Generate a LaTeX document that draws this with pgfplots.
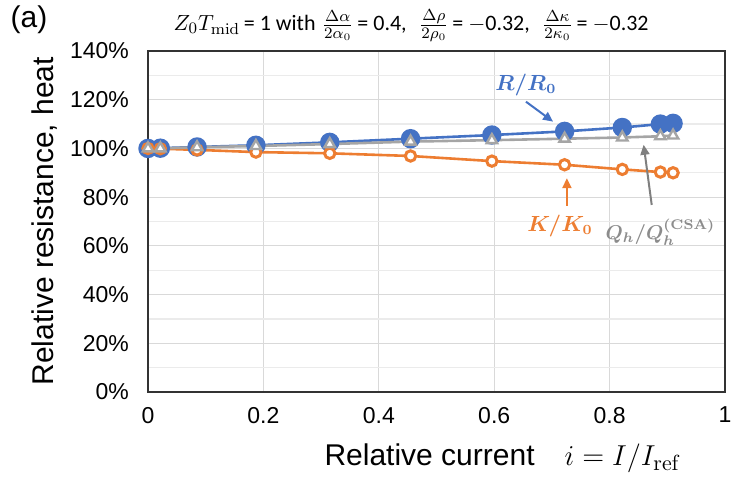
\documentclass[border=0pt]{standalone}
\usepackage[no-math]{fontspec}
\setmainfont{Liberation Sans}
\newfontfamily\cf{Carlito}
\usepackage{bm}
\usepackage{pgfplots}
\pgfplotsset{compat=1.18}
\usetikzlibrary{arrows.meta}
\definecolor{cblue}{HTML}{4472C4}
\definecolor{corange}{HTML}{ED7D31}
\definecolor{cgray}{HTML}{A5A5A5}
\definecolor{cdgray}{HTML}{7F7F7F}
\definecolor{ctgray}{HTML}{8C8C8C}
\begin{document}
\begin{tikzpicture}
\begin{axis}[
  at={(0,0)}, anchor=south west,
  scale only axis, width=288.5pt, height=170.5pt,
  xmin=0, xmax=1, ymin=0, ymax=140,
  xtick={0,0.2,...,1}, ytick={0,20,...,140},
  minor ytick={10,30,...,130},
  grid=both,
  major grid style={color=black!15, line width=0.6pt},
  minor grid style={color=black!8, line width=0.6pt},
  axis line style={color=black!80, line width=0.7pt},
  tick style={draw=none},
  /pgf/number format/assume math mode=true,
  ticklabel style={font=\fontsize{11.5}{13}\selectfont},
  yticklabel={\pgfmathprintnumber[fixed,precision=0]{\tick}\%},
  yticklabel style={xshift=-6pt},
  xticklabel style={yshift=-4pt},
  xlabel={Relative current\quad $i = I/I_{\mathrm{ref}}$},
  xlabel style={at={(axis description cs:0.615,-0.1935)}, anchor=center, font=\fontsize{15}{17}\selectfont},
  ylabel={Relative resistance, heat},
  ylabel style={at={(axis description cs:-0.1785,0.501)}, anchor=center, rotate=0, font=\fontsize{15}{17}\selectfont},
  every axis title shift=0pt,
  title={$Z_0T_{\mathrm{mid}}$\,{\cf = 1 with} $\frac{\Delta\alpha}{2\alpha_0}$\,{\cf = 0.4,}\; $\frac{\Delta\rho}{2\rho_0}$\,{\cf = $-$0.32,}\; $\frac{\Delta\kappa}{2\kappa_0}$\,{\cf = $-$0.32}},
  title style={at={(axis description cs:0.456,1.075)}, anchor=center, font=\fontsize{11}{13}\selectfont},
  clip=false,
]
% R/R0
\addplot[color=cblue, line width=1.3pt, mark=*, mark size=4.2pt, mark options={fill=cblue, draw=cblue}]
 coordinates {(0,100) (0.0214,100.1) (0.085,100.6) (0.187,101.3) (0.315,102.5) (0.455,104.0) (0.596,105.5) (0.722,107.0) (0.822,108.6) (0.888,110.0) (0.910,110.3)};
% K/K0
\addplot[color=corange, line width=1.3pt, mark=*, mark size=2.6pt, mark options={fill=white, draw=corange, line width=1.5pt}]
 coordinates {(0,100) (0.0214,99.9) (0.085,99.4) (0.187,98.5) (0.315,98.0) (0.455,96.9) (0.596,94.8) (0.722,93.3) (0.822,91.4) (0.888,90.3) (0.910,90.0)};
% Qh/Qh(CSA)
\addplot[color=cgray, line width=1.3pt, mark=triangle*, mark size=3pt, mark options={fill=white, draw=cgray, line width=1.2pt}]
 coordinates {(0,100) (0.0214,100) (0.085,100.5) (0.187,101.0) (0.315,101.8) (0.455,102.8) (0.596,103.4) (0.722,104.0) (0.822,104.5) (0.888,105.0) (0.910,105.3)};
% annotations
\node[text=cblue, font=\fontsize{10.5}{12}\selectfont] at (axis cs:0.655,126) {$\bm{R/R_0}$};
\draw[cblue, line width=1pt, -{Triangle[length=5pt,width=4.5pt]}] (axis cs:0.655,119.2) -- (axis cs:0.702,111);
\node[text=corange, font=\fontsize{10.5}{12}\selectfont] at (axis cs:0.714,68.1) {$\bm{K/K_0}$};
\draw[corange, line width=1pt, -{Triangle[length=5pt,width=4.5pt]}] (axis cs:0.726,76.5) -- (axis cs:0.726,87.8);
\node[text=ctgray, font=\fontsize{10}{12}\selectfont] at (axis cs:0.888,65.7) {$\bm{Q_h/Q_h^{(\mathbf{CSA})}}$};
\draw[cdgray, line width=1pt, -{Triangle[length=5pt,width=4.5pt]}] (axis cs:0.873,76.8) -- (axis cs:0.859,101.5);
\end{axis}
\node[font=\fontsize{15}{17}\selectfont] at (-59.5pt,186pt) {(a)};
\pgfresetboundingbox
\path (-74pt,-43.5pt) rectangle (292pt,196pt);
\end{tikzpicture}
\end{document}
